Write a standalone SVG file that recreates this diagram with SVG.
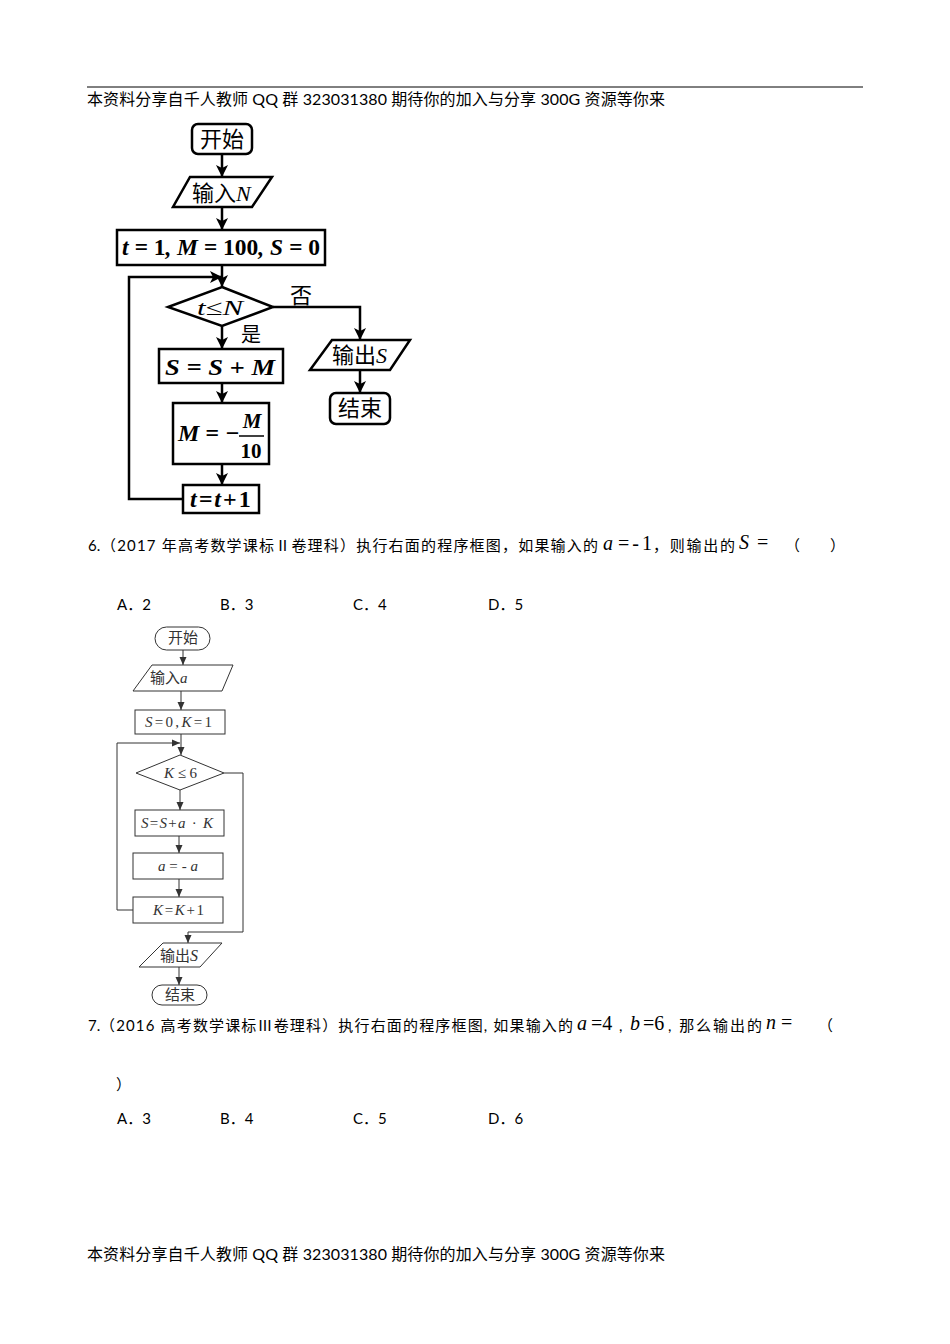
<svg xmlns="http://www.w3.org/2000/svg" width="950" height="1344" viewBox="0 0 950 1344">
<defs>
<marker id="ah1" markerUnits="userSpaceOnUse" markerWidth="12" markerHeight="12" refX="12" refY="6" orient="auto">
<path d="M0,0 L12,6 L0,12 L3,6 z" fill="#000"/>
</marker>
<marker id="ah2" markerUnits="userSpaceOnUse" markerWidth="8" markerHeight="8" refX="8" refY="4" orient="auto">
<path d="M0,0.5 L8,4 L0,7.5 z" fill="#333"/>
</marker>
</defs>
<style>
.bg{fill:#fff}
.t{font-family:"Lato","Noto Sans CJK SC",sans-serif;font-size:15px;fill:#000}
.h{font-family:"Lato","Noto Sans CJK SC",sans-serif;font-size:16px;fill:#000}
.m{font-family:"Liberation Serif","DejaVu Serif",serif;font-size:20px;fill:#000}
.mi{font-style:italic}
.n1{fill:#fff;stroke:#000;stroke-width:2.5}
.c1{fill:none;stroke:#000;stroke-width:2.5}
.f1{font-family:"Liberation Serif","Noto Sans CJK SC",serif;font-size:22px;fill:#000}
.fb{font-family:"Liberation Serif",serif;font-weight:bold;font-style:italic;font-size:24px;fill:#000}
.n2{fill:#fff;stroke:#333;stroke-width:1}
.c2{fill:none;stroke:#333;stroke-width:1}
.f2{font-family:"Liberation Serif","Noto Sans CJK SC",serif;font-size:15px;fill:#333}
</style>
<rect class="bg" x="0" y="0" width="950" height="1344"/>

<g id="header">
<line x1="87" y1="87" x2="863" y2="87" stroke="#000" stroke-width="1"/>
<text class="h" x="87" y="105" textLength="578" lengthAdjust="spacing">本资料分享自千人教师 QQ 群 323031380 期待你的加入与分享  300G 资源等你来</text>
</g>

<!-- Flowchart 1 -->
<g id="connectors1">
<line class="c1" x1="222" y1="150" x2="222" y2="177" marker-end="url(#ah1)"/>
<line class="c1" x1="222" y1="207" x2="222" y2="230" marker-end="url(#ah1)"/>
<line class="c1" x1="222" y1="265" x2="222" y2="287" marker-end="url(#ah1)"/>
<path class="c1" d="M183,499 H129 V277 H222" marker-end="url(#ah1)"/>
<path class="c1" d="M273,307 H360 V340" marker-end="url(#ah1)"/>
<line class="c1" x1="360" y1="370" x2="360" y2="393" marker-end="url(#ah1)"/>
<line class="c1" x1="222" y1="326" x2="222" y2="349" marker-end="url(#ah1)"/>
<line class="c1" x1="222" y1="383" x2="222" y2="403" marker-end="url(#ah1)"/>
<line class="c1" x1="222" y1="464" x2="222" y2="485" marker-end="url(#ah1)"/>
<text class="f1" x="290" y="303">否</text>
<text class="f1" x="241" y="342" style="font-size:20px">是</text>
</g>
<g id="f1-start">
<rect class="n1" x="192" y="124" width="60" height="30" rx="6"/>
<text class="f1" x="222" y="147" text-anchor="middle">开始</text>
</g>
<g id="f1-input">
<polygon class="n1" points="190,177 272,177 252,207 173,207"/>
<text class="f1" x="192" y="201">输入<tspan class="mi">N</tspan></text>
</g>
<g id="f1-init">
<rect class="n1" x="117" y="230" width="208" height="35"/>
<text class="fb" x="122" y="255" textLength="198" lengthAdjust="spacingAndGlyphs">t = <tspan font-style="normal">1</tspan>, M = <tspan font-style="normal">100</tspan>, S = <tspan font-style="normal">0</tspan></text>
</g>
<g id="f1-cond">
<polygon class="n1" points="222,287 273,307 222,326 168,307"/>
<text class="f1 mi" x="197" y="315" textLength="46" lengthAdjust="spacingAndGlyphs">t≤N</text>
</g>
<g id="f1-sum">
<rect class="n1" x="159" y="349" width="124" height="34"/>
<text class="fb" x="165" y="375" textLength="110" lengthAdjust="spacingAndGlyphs">S = S + M</text>
</g>
<g id="f1-m">
<rect class="n1" x="173" y="403" width="96" height="61"/>
<text class="fb" x="178" y="441">M = −</text>
<text class="fb" x="252" y="428" text-anchor="middle" style="font-size:21px">M</text>
<line x1="239" y1="436" x2="264" y2="436" stroke="#000" stroke-width="1.5"/>
<text class="fb" x="251" y="458" text-anchor="middle" style="font-style:normal;font-size:21px">10</text>
</g>
<g id="f1-inc">
<rect class="n1" x="183" y="485" width="76" height="28"/>
<text class="fb" x="190" y="507" letter-spacing="2">t=t<tspan font-style="normal">+1</tspan></text>
</g>
<g id="f1-output">
<polygon class="n1" points="332,340 410,340 390,370 310,370"/>
<text class="f1" x="332" y="363">输出<tspan class="mi">S</tspan></text>
</g>
<g id="f1-end">
<rect class="n1" x="330" y="393" width="60" height="31" rx="6"/>
<text class="f1" x="360" y="416" text-anchor="middle">结束</text>
</g>

<g id="q6">
<text class="t" x="88" y="551">6.</text>
<text class="t" x="101" y="551" textLength="497" lengthAdjust="spacing">（2017 年高考数学课标Ⅱ卷理科）执行右面的程序框图，如果输入的</text>
<text class="m mi" x="603" y="550">a</text>
<text class="m" x="618" y="550" textLength="34" lengthAdjust="spacing">=-1</text>
<text class="t" x="653" y="551" textLength="82" lengthAdjust="spacing">，则输出的</text>
<text class="m mi" x="739" y="549">S</text>
<text class="m" x="757" y="549">=</text>
<text class="t" x="785" y="551">（</text>
<text class="t" x="830" y="551">）</text>
<text class="t" x="117" y="610">A．2</text>
<text class="t" x="220" y="610">B．3</text>
<text class="t" x="353" y="610">C．4</text>
<text class="t" x="488" y="610">D．5</text>
</g>

<!-- Flowchart 2 -->
<g id="connectors2">
<line class="c2" x1="183" y1="650" x2="183" y2="665" marker-end="url(#ah2)"/>
<line class="c2" x1="181" y1="691" x2="181" y2="710" marker-end="url(#ah2)"/>
<line class="c2" x1="181" y1="734" x2="181" y2="755" marker-end="url(#ah2)"/>
<path class="c2" d="M133,910 H117 V743 H180" marker-end="url(#ah2)"/>
<path class="c2" d="M224,773 H243 V932 H188 V943" marker-end="url(#ah2)"/>
<line class="c2" x1="180" y1="790" x2="180" y2="810" marker-end="url(#ah2)"/>
<line class="c2" x1="179" y1="836" x2="179" y2="853" marker-end="url(#ah2)"/>
<line class="c2" x1="179" y1="879" x2="179" y2="897" marker-end="url(#ah2)"/>
<line class="c2" x1="179" y1="967" x2="179" y2="985" marker-end="url(#ah2)"/>
</g>
<g id="f2-start">
<rect class="n2" x="155" y="627" width="55" height="23" rx="11.5"/>
<text class="f2" x="183" y="643" text-anchor="middle">开始</text>
</g>
<g id="f2-input">
<polygon class="n2" points="152,665 233,665 222,691 133,691"/>
<text class="f2" x="150" y="683">输入<tspan font-style="italic">a</tspan></text>
</g>
<g id="f2-init">
<rect class="n2" x="135" y="710" width="90" height="24"/>
<text class="f2" x="145" y="727" textLength="67" lengthAdjust="spacing"><tspan font-style="italic">S</tspan>=0,<tspan font-style="italic">K</tspan>=1</text>
</g>
<g id="f2-cond">
<polygon class="n2" points="180,755 224,773 180,790 136,773"/>
<text class="f2" x="164" y="778" textLength="33" lengthAdjust="spacing"><tspan font-style="italic">K</tspan>≤6</text>
</g>
<g id="f2-sum">
<rect class="n2" x="135" y="810" width="89" height="26"/>
<text class="f2" x="141" y="828" textLength="72" lengthAdjust="spacing"><tspan font-style="italic">S</tspan>=<tspan font-style="italic">S</tspan>+<tspan font-style="italic">a</tspan> · <tspan font-style="italic">K</tspan></text>
</g>
<g id="f2-neg">
<rect class="n2" x="133" y="853" width="90" height="26"/>
<text class="f2" x="158" y="871" textLength="40" lengthAdjust="spacing"><tspan font-style="italic">a</tspan>=-<tspan font-style="italic">a</tspan></text>
</g>
<g id="f2-inc">
<rect class="n2" x="133" y="897" width="90" height="26"/>
<text class="f2" x="153" y="915" textLength="51" lengthAdjust="spacing"><tspan font-style="italic">K</tspan>=<tspan font-style="italic">K</tspan>+1</text>
</g>
<g id="f2-output">
<polygon class="n2" points="163,943 222,943 200,967 139,967"/>
<text class="f2" x="160" y="961">输出<tspan font-style="italic" style="font-size:16px">S</tspan></text>
</g>
<g id="f2-end">
<rect class="n2" x="152" y="985" width="55" height="20" rx="10"/>
<text class="f2" x="180" y="1000" text-anchor="middle">结束</text>
</g>

<g id="q7">
<text class="t" x="88" y="1031">7.</text>
<text class="t" x="100" y="1031" textLength="473" lengthAdjust="spacing">（2016 高考数学课标Ⅲ卷理科）执行右面的程序框图, 如果输入的</text>
<text class="m mi" x="577" y="1030">a</text>
<text class="m" x="591" y="1030">=4</text>
<text class="t" x="619" y="1031">,</text>
<text class="m mi" x="630" y="1030">b</text>
<text class="m" x="643" y="1030">=6</text>
<text class="t" x="668" y="1031" textLength="94" lengthAdjust="spacing">, 那么输出的</text>
<text class="m mi" x="766" y="1029">n</text>
<text class="m" x="781" y="1029">=</text>
<text class="t" x="818" y="1031">（</text>
<text class="t" x="116" y="1090">）</text>
<text class="t" x="117" y="1124">A．3</text>
<text class="t" x="220" y="1124">B．4</text>
<text class="t" x="353" y="1124">C．5</text>
<text class="t" x="488" y="1124">D．6</text>
</g>

<g id="footer">
<text class="h" x="87" y="1260" textLength="578" lengthAdjust="spacing">本资料分享自千人教师 QQ 群 323031380 期待你的加入与分享  300G 资源等你来</text>
</g>
</svg>
